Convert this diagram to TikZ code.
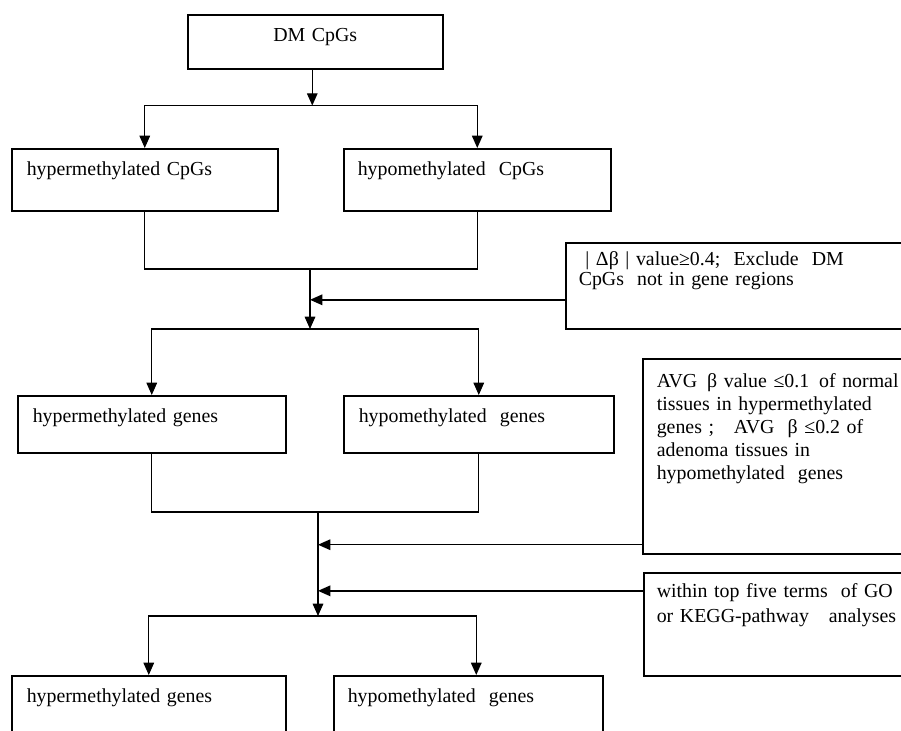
\documentclass[tikz,border=0pt]{standalone}
\usepackage{fontspec}
\setmainfont{Liberation Serif}
\usetikzlibrary{arrows.meta,calc}

\begin{document}
\begin{tikzpicture}[x=0.02cm,y=-0.02cm,
    box/.style={draw, line width=0.9pt, anchor=north west, inner ysep=0pt,
                align=left, font=\fontsize{11.3pt}{13pt}\selectfont},
    arr/.style={line width=0.8pt, -{Triangle[length=7pt,width=6pt]}},
    link/.style={line width=0.8pt}]
    \useasboundingbox (0,0) rectangle (901,730);
    \clip (0,0) rectangle (901,730);

    % Draw the flow boxes
    \node[box, align=center, inner xsep=0pt, text width=5.1cm,
          text height=0.54cm, text depth=0.54cm] (dm) at (187,14) {DM CpGs};
    \node[box, inner xsep=0.3cm, text width=4.72cm,
          text height=0.54cm, text depth=0.7cm] (hcpg) at (11,148) {hypermethylated CpGs};
    \node[box, inner xsep=0.28cm, text width=4.78cm,
          text height=0.54cm, text depth=0.7cm] (ocpg) at (343,148) {hypomethylated~ CpGs};
    \node[box, inner xsep=0.3cm, text width=4.76cm,
          text height=0.54cm, text depth=0.6cm] (hgen) at (17,395) {hypermethylated genes};
    \node[box, inner xsep=0.3cm, text width=4.8cm,
          text height=0.54cm, text depth=0.6cm] (ogen) at (343,395) {hypomethylated~ genes};
    \node[box, inner xsep=0.3cm, text width=4.88cm,
          text height=0.54cm, text depth=1.06cm] (hgen2) at (11,675) {hypermethylated genes};
    \node[box, inner xsep=0.28cm, text width=4.82cm,
          text height=0.54cm, text depth=1.06cm] (ogen2) at (333,675) {hypomethylated~ genes};

    % Draw the criteria boxes
    \node[box, inner xsep=0.26cm, text width=6.68cm, text height=0.46cm, text depth=1.26cm,
          font=\fontsize{11.3pt}{11.4pt}\selectfont] (crit1) at (565,242)
        {\ | Δβ | value≥0.4;\ \ Exclude\ \ DM\\CpGs\ \ not in gene regions};
    \node[box, inner xsep=0.28cm, text width=5.44cm, text height=0.58cm, text depth=3.32cm,
          font=\fontsize{11.3pt}{13pt}\selectfont] (crit2) at (642,358)
        {AVG\, β value ≤0.1\, of normal\\tissues in hypermethylated\\genes ;\ \ \ AVG\ \ β ≤0.2 of\\adenoma tissues in\\hypomethylated\ \ genes};
    \node[box, inner xsep=0.26cm, text width=5.48cm, text height=0.5cm, text depth=1.56cm,
          font=\fontsize{11.3pt}{14.2pt}\selectfont] (crit3) at (643,572)
        {within top five terms\ \ of GO\\or KEGG-pathway\ \ \ analyses};

    % Split below DM CpGs
    \coordinate (j1) at ($(dm.south)+(-3,36)$);
    \draw[arr] (dm.south -| j1) -- (j1);
    \draw[arr] (j1) -| (hcpg);
    \draw[arr] (j1) -| (ocpg);

    % Merge CpGs and split into genes
    \coordinate (m1) at (310,269);
    \coordinate (j2) at (310,329);
    \draw[link] (hcpg.south) |- (m1) -| (ocpg.south);
    \draw[arr] (m1) -- (j2);
    \draw[arr] (j2) -| (hgen);
    \draw[arr] (j2) -| (ogen);
    \coordinate (k1) at ($(crit1.north west)!0.66!(crit1.south west)$);
    \draw[arr] (k1) -- (k1 -| m1);

    % Merge genes and split again
    \coordinate (m2) at (318,512);
    \coordinate (j3) at (318,616);
    \draw[link] (hgen.south) |- (m2) -| (ogen.south);
    \draw[arr] (m2) -- (j3);
    \draw[arr] (j3) -| (hgen2);
    \draw[arr] (j3) -| ($(ogen2.north)+(8,0)$);
    \coordinate (k2) at ($(crit2.north west)!0.95!(crit2.south west)$);
    \coordinate (k3) at ($(crit3.north west)!0.18!(crit3.south west)$);
    \draw[arr] (k2) -- (k2 -| m2);
    \draw[arr] (k3) -- (k3 -| m2);
\end{tikzpicture}
\end{document}
